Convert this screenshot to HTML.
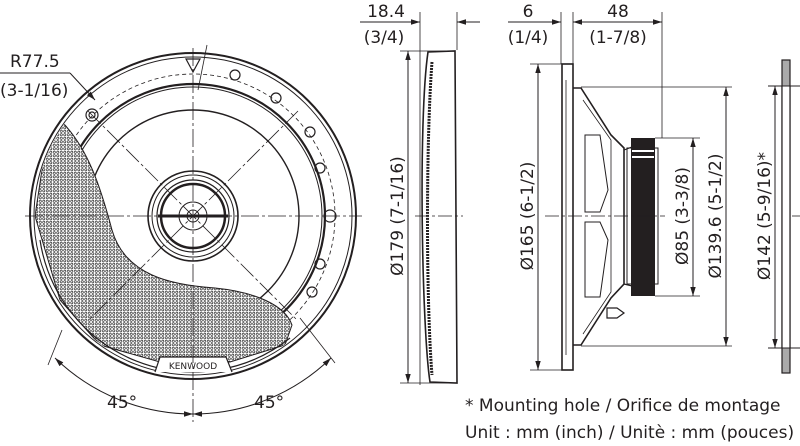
<!DOCTYPE html>
<html><head><meta charset="utf-8"><style>
html,body{margin:0;padding:0;background:#fff;width:800px;height:446px;overflow:hidden}
svg{display:block}
text{font-family:"DejaVu Sans","Liberation Sans",sans-serif;fill:#231f20}
</style></head><body>
<svg width="800" height="446" viewBox="0 0 800 446" xmlns="http://www.w3.org/2000/svg">
<defs>
<pattern id="mesh" width="3.5" height="3.5" patternUnits="userSpaceOnUse">
<rect width="3.5" height="3.5" fill="#fff"/><circle cx="1.75" cy="1.75" r="1.1" fill="none" stroke="#333" stroke-width="0.7"/>
</pattern>
<marker id="ar" viewBox="0 0 10 10" refX="10" refY="5" markerWidth="9" markerHeight="9" orient="auto-start-reverse" markerUnits="userSpaceOnUse"><path d="M0,2 L10,5 L0,8 z" fill="#231f20"/></marker>
<clipPath id="outer"><circle cx="193" cy="216" r="158"/></clipPath>
</defs>
<g stroke="#231f20" fill="none">
<!-- FRONT VIEW -->
<circle cx="193" cy="216" r="163" stroke-width="2"/>
<circle cx="193" cy="216" r="159" stroke-width="1"/>
<circle cx="193" cy="216" r="132" stroke-width="2.2"/>
<circle cx="193" cy="216" r="129" stroke-width="1"/>
<circle cx="193" cy="216" r="106" stroke-width="1.4"/>
<circle cx="193" cy="216" r="142" stroke-width="0.8" stroke-dasharray="4 3"/>
<!-- mesh crescent -->
<path clip-path="url(#outer)" d="M64,124 C88,150 100,185 112,230 C125,275 170,285 215,288 C255,292 285,305 292,325 L285,345 L230,362 L160,362 L100,345 L60,300 L35,216 L45,150 Z" fill="url(#mesh)" stroke-width="1"/>
<path d="M40,240 A155,155 0 0 0 290,338" stroke-width="1.2"/>
<!-- tabs on right -->
<g stroke-width="1.2">
<circle cx="330" cy="216" r="6"/><circle cx="320" cy="168" r="5"/><circle cx="320" cy="264" r="5"/>
<circle cx="310" cy="132" r="5"/><circle cx="276" cy="98" r="5"/><circle cx="235" cy="75" r="5"/>
<circle cx="312" cy="292" r="5"/><circle cx="92" cy="115" r="6"/><circle cx="92" cy="115" r="3"/>
</g>
<!-- logo plate -->
<path d="M155,372 L160,357 L226,357 L232,372" stroke-width="1.2" fill="#fff"/>
<text x="193" y="369" font-size="9" text-anchor="middle" stroke="none">KENWOOD</text>
<!-- tweeter -->
<circle cx="193" cy="216" r="45" stroke-width="1.6"/>
<circle cx="193" cy="216" r="41" stroke-width="1"/>
<circle cx="193" cy="216" r="36" stroke-width="1.2"/>
<circle cx="193" cy="216" r="32" stroke-width="2.5"/>
<circle cx="193" cy="216" r="14" stroke-width="1"/>
<circle cx="193" cy="216" r="6" stroke-width="1"/>
<line x1="158" y1="216" x2="228" y2="216" stroke-width="3"/>
<!-- center lines -->
<g stroke-width="0.8" stroke-dasharray="18 3 3 3">
<line x1="25" y1="216" x2="362" y2="216"/>
<line x1="193" y1="48" x2="193" y2="422"/>
<line x1="88" y1="111" x2="298" y2="321"/>
<line x1="298" y1="111" x2="88" y2="321"/>
</g>
<!-- top triangle -->
<path d="M186,59 L200,59 L193,72 Z" stroke-width="1.2"/>
<line x1="207" y1="45" x2="198" y2="90" stroke-width="0.8"/>
<!-- R77.5 leader -->
<line x1="0" y1="73" x2="70" y2="73" stroke-width="1"/>
<line x1="70" y1="73" x2="95" y2="100" stroke-width="1" marker-end="url(#ar)"/>
<!-- 45 deg dims -->
<line x1="62" y1="330" x2="48" y2="365" stroke-width="0.8"/>
<line x1="300" y1="318" x2="335" y2="363" stroke-width="0.8"/>
<path d="M55,358 A198,198 0 0 0 193,414" stroke-width="1" marker-start="url(#ar)" marker-end="url(#ar)"/>
<path d="M331,358 A198,198 0 0 1 193,414" stroke-width="1" marker-start="url(#ar)" marker-end="url(#ar)"/>

<!-- SIDE VIEW 1 grille -->
<path d="M428,52 L455,51 L457,383 L430,382 C422,330 418,120 428,52 Z" stroke-width="1.6"/>
<path d="M432,62 C426,140 426,300 432,375" stroke-width="3" stroke-dasharray="2 1"/>
<line x1="420" y1="12" x2="420" y2="385" stroke-width="0.8"/>
<line x1="457" y1="12" x2="457" y2="50" stroke-width="0.8"/>
<line x1="360" y1="22" x2="420" y2="22" stroke-width="1" marker-end="url(#ar)"/>
<line x1="480" y1="22" x2="457" y2="22" stroke-width="1" marker-end="url(#ar)"/>
<line x1="400" y1="51" x2="455" y2="51" stroke-width="0.8"/>
<line x1="400" y1="383" x2="455" y2="383" stroke-width="0.8"/>
<line x1="408" y1="51" x2="408" y2="383" stroke-width="1" marker-start="url(#ar)" marker-end="url(#ar)"/>
<line x1="415" y1="216" x2="463" y2="216" stroke-width="0.8" stroke-dasharray="14 3 3 3"/>

<!-- SIDE VIEW 2 speaker -->
<rect x="562" y="64" width="11" height="306" stroke-width="1.6"/>
<line x1="566" y1="80" x2="566" y2="355" stroke-width="0.8"/>
<path d="M573,88 L581,88 L611,135 L624,148 L624,284 L611,298 L581,345 L573,345" stroke-width="1.6"/>
<path d="M583,100 L611,140 L611,292 L583,334" stroke-width="0.8"/>
<path d="M585,135 L600,135 L608,190 L600,212 L585,212 Z M585,222 L600,222 L608,240 L600,297 L585,297 Z" stroke-width="1"/>
<path d="M624,150 L632,147 L632,286 L624,284" stroke-width="1.2"/>
<rect x="631" y="138" width="24" height="158" fill="#231f20" stroke="none"/>
<rect x="632" y="150" width="22" height="2" fill="#fff" stroke="none"/>
<rect x="632" y="156" width="22" height="2" fill="#fff" stroke="none"/>
<rect x="627" y="148" width="31" height="136" stroke-width="1"/>
<path d="M607,308 L617,308 L624,313 L617,318 L607,318 Z" stroke-width="1.2"/>
<line x1="561" y1="12" x2="561" y2="64" stroke-width="0.8"/>
<line x1="573" y1="12" x2="573" y2="64" stroke-width="0.8"/>
<line x1="662" y1="12" x2="662" y2="138" stroke-width="0.8"/>
<line x1="508" y1="22" x2="561" y2="22" stroke-width="1" marker-end="url(#ar)"/>
<line x1="573" y1="22" x2="662" y2="22" stroke-width="1" marker-start="url(#ar)" marker-end="url(#ar)"/>
<line x1="530" y1="64" x2="562" y2="64" stroke-width="0.8"/>
<line x1="530" y1="370" x2="562" y2="370" stroke-width="0.8"/>
<line x1="538" y1="64" x2="538" y2="370" stroke-width="1" marker-start="url(#ar)" marker-end="url(#ar)"/>
<line x1="655" y1="138" x2="700" y2="138" stroke-width="0.8"/>
<line x1="655" y1="296" x2="700" y2="296" stroke-width="0.8"/>
<line x1="693" y1="138" x2="693" y2="296" stroke-width="1" marker-start="url(#ar)" marker-end="url(#ar)"/>
<line x1="581" y1="87" x2="732" y2="87" stroke-width="0.8"/>
<line x1="581" y1="346" x2="732" y2="346" stroke-width="0.8"/>
<line x1="726" y1="87" x2="726" y2="346" stroke-width="1" marker-start="url(#ar)" marker-end="url(#ar)"/>
<line x1="545" y1="216" x2="665" y2="216" stroke-width="0.8" stroke-dasharray="14 3 3 3"/>

<!-- MOUNTING HOLE -->
<rect x="782" y="60" width="8" height="313" fill="#aaa" stroke-width="1.2"/>
<rect x="782" y="86" width="8" height="262" fill="#fff" stroke="none"/>
<line x1="782" y1="86" x2="782" y2="348" stroke-width="1.2"/>
<line x1="790" y1="86" x2="790" y2="348" stroke-width="1.2"/>
<line x1="768" y1="86" x2="800" y2="86" stroke-width="1"/>
<line x1="768" y1="348" x2="800" y2="348" stroke-width="1"/>
<line x1="775" y1="86" x2="775" y2="348" stroke-width="1" marker-start="url(#ar)" marker-end="url(#ar)"/>
<line x1="792" y1="216" x2="800" y2="216" stroke-width="0.8"/>
</g>

<g font-size="17">
<text x="10" y="67">R77.5</text>
<text x="0" y="96">(3-1/16)</text>
<text x="107" y="408">45°</text>
<text x="254" y="408">45°</text>
<text x="386" y="17" text-anchor="middle">18.4</text>
<text x="384" y="43" text-anchor="middle">(3/4)</text>
<text x="528" y="17" text-anchor="middle">6</text>
<text x="528" y="43" text-anchor="middle">(1/4)</text>
<text x="618" y="17" text-anchor="middle">48</text>
<text x="618" y="43" text-anchor="middle">(1-7/8)</text>
<text transform="translate(403,216) rotate(-90)" text-anchor="middle">Ø179 (7-1/16)</text>
<text transform="translate(533,216) rotate(-90)" text-anchor="middle">Ø165 (6-1/2)</text>
<text transform="translate(688,216) rotate(-90)" text-anchor="middle">Ø85 (3-3/8)</text>
<text transform="translate(721,216) rotate(-90)" text-anchor="middle">Ø139.6 (5-1/2)</text>
<text transform="translate(770,216) rotate(-90)" text-anchor="middle">Ø142 (5-9/16)*</text>
<text x="465" y="411">* Mounting hole / Orifice de montage</text>
<text x="465" y="438">Unit : mm (inch) / Unitè : mm (pouces)</text>
</g>
</svg>
</body></html>
